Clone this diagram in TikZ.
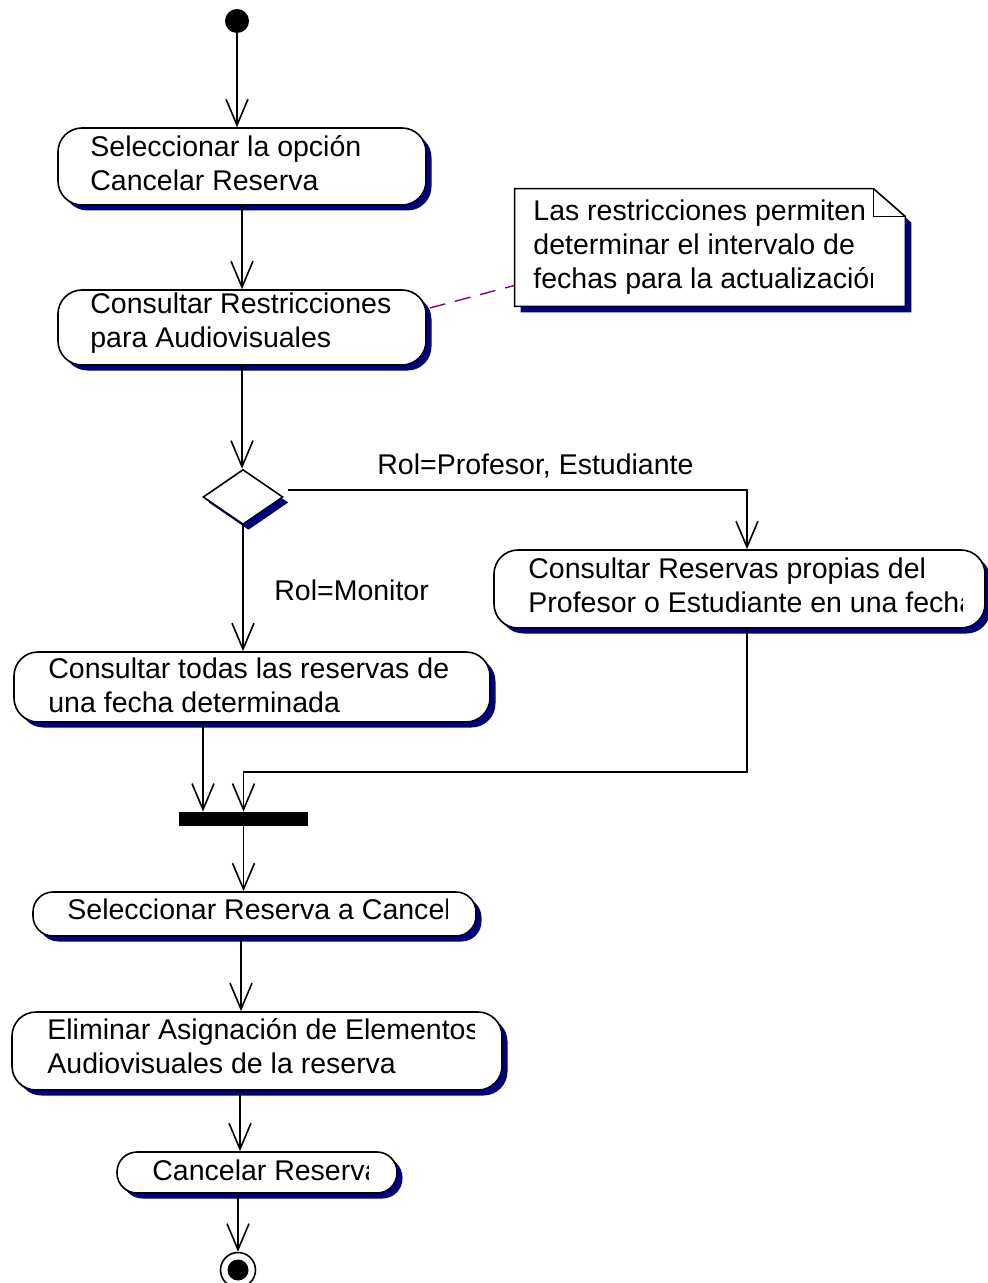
\documentclass[tikz,border=0pt]{standalone}
\usepackage{fontspec}
\setmainfont{Liberation Sans}
\usetikzlibrary{arrows.meta,shapes.geometric,shadows,calc}
\definecolor{ShadowNavy}{HTML}{000080}
\definecolor{NotePurple}{HTML}{800080}

\begin{document}
\begin{tikzpicture}[
  x=0.5pt, y=-0.5pt,
  font=\fontsize{14.25pt}{17pt}\selectfont,
  navyshadow/.style={drop shadow={shadow xshift=2.75pt, shadow yshift=-2.75pt,
                     fill=ShadowNavy, opacity=1}},
  activity/.style={draw, line width=0.8pt, fill=white, rounded corners=12pt, navyshadow},
  actext/.style={anchor=west, inner sep=0pt, align=left},
  decision/.style={diamond, draw, line width=0.8pt, fill=white, inner sep=0pt,
                   minimum width=40pt, minimum height=27.5pt, navyshadow},
  flow/.style={-{Straight Barb[length=13pt,width=11pt]}, line width=0.8pt},
  notelink/.style={draw=NotePurple, line width=0.7pt, dash pattern=on 8pt off 5pt}
]
\useasboundingbox (0,0) rectangle (988,1283);

% start
\node[circle, fill, minimum size=12pt, inner sep=0pt] (inicio) at (237,21) {};

% activities
\node[activity, minimum width=184pt, minimum height=38.5pt] (sel) at (242,166.5) {};
\node[actext] (sel-t) at (90,163) {Seleccionar la opción\\Cancelar Reserva};

\node[activity, minimum width=184pt, minimum height=37.5pt] (restric) at (242,327.5) {};
\node[actext] (restric-t) at (90,323) {Consultar Restricciones\\para Audiovisuales};

% note
\node[minimum width=195pt, minimum height=58.5pt, inner sep=0pt] (nota) at (710,247.5) {};
\fill[ShadowNavy] ([shift={(3pt,-3pt)}]nota.south west) -- ([shift={(3pt,-3pt)}]nota.north west)
  -- ([shift={(-13pt,-3pt)}]nota.north east) -- ([shift={(3pt,-17pt)}]nota.north east)
  -- ([shift={(3pt,-3pt)}]nota.south east) -- cycle;
\filldraw[fill=white, line width=0.8pt] (nota.south west) -- (nota.north west)
  -- ([xshift=-16pt]nota.north east) -- ([yshift=-14pt]nota.north east)
  -- (nota.south east) -- cycle;
\draw[line width=0.8pt] ([xshift=-16pt]nota.north east) -- ([shift={(-16pt,-14pt)}]nota.north east)
  -- ([yshift=-14pt]nota.north east);
\begin{scope}
  \clip (515,189) rectangle (872,306);
  \node[actext] (nota-t) at (533,247) {Las restricciones permiten\\determinar el intervalo de\\fechas para la actualización};
\end{scope}
\draw[notelink] ([shift={(1.5pt,9.75pt)}]restric.east) -- ([yshift=10.5pt]nota.south west);

% decision
\node[decision] (decision) at (243,497) {};
\node[actext] (rolprof) at (377,466) {Rol=Profesor, Estudiante};
\node[actext] (rolmon) at (274,590) {Rol=Monitor};

\node[activity, minimum width=245.5pt, minimum height=39pt] (propias) at (739.5,589) {};
\begin{scope}
  \clip (494,540) rectangle (962,640);
  \node[actext] (propias-t) at (528,585) {Consultar Reservas propias del\\Profesor o Estudiante en una fecha};
\end{scope}

\node[activity, minimum width=238pt, minimum height=35pt] (todas) at (252,687) {};
\node[actext] (todas-t) at (48,685) {Consultar todas las reservas de\\una fecha determinada};

% join bar
\node[fill, minimum width=64.5pt, minimum height=7pt, inner sep=0pt] (union) at (243.5,819) {};

\node[activity, rounded corners=10pt, minimum width=221.5pt, minimum height=22pt] (selres) at (254.5,914) {};
\begin{scope}
  \clip (33,885) rectangle (447,940);
  \node[actext] (selres-t) at (67,909) {Seleccionar Reserva a Cancelar};
\end{scope}

\node[activity, minimum width=245pt, minimum height=39pt] (eliminar) at (257,1051) {};
\begin{scope}
  \clip (12,1005) rectangle (474,1095);
  \node[actext] (eliminar-t) at (47,1046) {Eliminar Asignación de Elementos\\Audiovisuales de la reserva};
\end{scope}

\node[activity, rounded corners=10pt, minimum width=140pt, minimum height=20.5pt] (cancelar) at (257,1172.5) {};
\begin{scope}
  \clip (117,1145) rectangle (368,1200);
  \node[actext] (cancelar-t) at (152,1170) {Cancelar Reserva};
\end{scope}

% end
\node[circle, draw, line width=0.8pt, fill=white, minimum size=17.5pt, inner sep=0pt] (fin) at (238,1270) {};
\node[circle, fill, minimum size=10.5pt, inner sep=0pt] (fin-core) at (fin) {};

% flows
\draw[flow] (inicio) -- (inicio |- sel.north);
\draw[flow] (sel.south) -- (restric.north);
\draw[flow] (restric.south) -- (restric.south |- decision.north);
\draw[flow] ([shift={(2pt,3.5pt)}]decision.east) -| ([xshift=3.75pt]propias.north);
\draw[flow] (decision.south) -- (decision.south |- todas.north);
\draw[flow] ([xshift=-24.5pt]todas.south) -- ([xshift=-24.5pt]todas.south |- union.north);
\draw[flow] ([xshift=3.75pt]propias.south) -- ++(0,143) -| (union.north);
\draw[flow] (union.south) -- (union.south |- selres.north);
\draw[flow] ([xshift=-6.75pt]selres.south) -- ([xshift=-6.75pt]selres.south |- eliminar.north);
\draw[flow] ([xshift=-8.5pt]eliminar.south) -- ([xshift=-8.5pt]eliminar.south |- cancelar.north);
\draw[flow] ([xshift=-9.5pt]cancelar.south) -- (fin);
\end{tikzpicture}
\end{document}
